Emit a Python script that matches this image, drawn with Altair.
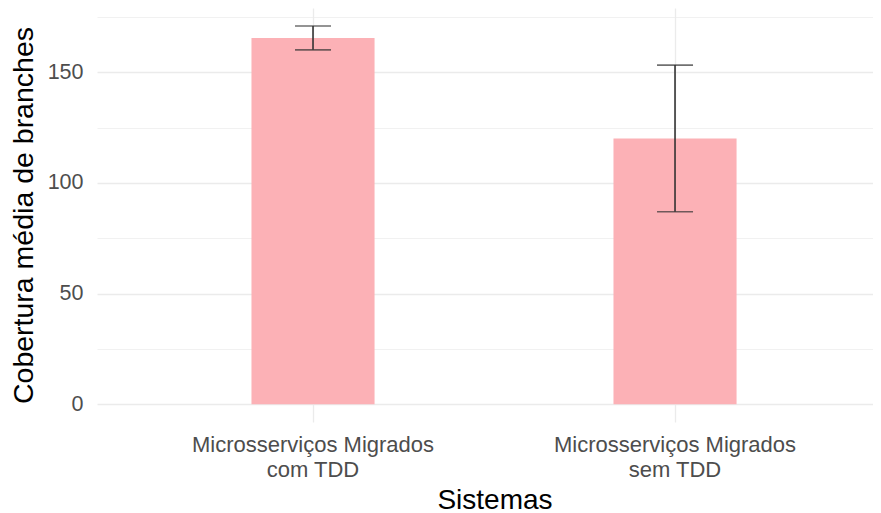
import altair as alt
import pandas as pd

# Data
categorias = ["Microsserviços Migrados\ncom TDD", "Microsserviços Migrados\nsem TDD"]
medias = [165.5, 120.1]
desvios = [5.4, 33.1]
y_ticks = [0, 25, 50, 75, 100, 125, 150, 175]

df = pd.DataFrame({"Sistemas": categorias, "media": medias, "desvio": desvios})

FONT = "Liberation Sans"
W, H = 776, 414

x_enc = alt.X(
    "Sistemas:N",
    sort=categorias,
    scale=alt.Scale(paddingInner=0.66, paddingOuter=0.4018, align=0.531),
    axis=alt.Axis(
        title="Sistemas",
        labelExpr="split(datum.label, '\\n')",
        labelAngle=0,
        labelFont=FONT,
        labelFontSize=22,
        labelColor="#4D4D4D",
        labelLineHeight=25,
        labelPadding=12,
        labelAlign="center",
        labelBaseline="top",
        labelLimit=0,
        ticks=False,
        domain=False,
        grid=True,
        gridColor="#EBEBEB",
        gridWidth=1.3,
        bandPosition=0.5,
        titleFont=FONT,
        titleFontSize=28,
        titleFontWeight="normal",
        titleColor="#000000",
        titleX=397.5,
        titleY=86,
        titleAlign="center",
        titleBaseline="alphabetic",
    ),
)

y_axis = alt.Axis(
    title="Cobertura média de branches",
    values=y_ticks,
    labelExpr="datum.value % 50 === 0 ? datum.label : ''",
    labelFont=FONT,
    labelFontSize=21.5,
    labelColor="#4D4D4D",
    labelPadding=14,
    ticks=False,
    domain=False,
    grid=True,
    gridColor="#EBEBEB",
    gridWidth={"condition": {"test": "datum.value % 50 === 0", "value": 1.3}, "value": 0.7},
    titleFont=FONT,
    titleFontSize=28.5,
    titleFontWeight="normal",
    titleColor="#000000",
    titleAngle=270,
    titleX=-64.5,
    titleY=207,
    titleAlign="center",
    titleBaseline="alphabetic",
)

y_scale = alt.Scale(domain=[-8, 179], nice=False, zero=False)

base = alt.Chart(df).transform_calculate(
    lo="datum.media - datum.desvio",
    hi="datum.media + datum.desvio",
)

bars = base.mark_bar(color="#FCB1B6").encode(
    x=x_enc,
    y=alt.Y("media:Q", scale=y_scale, axis=y_axis),
    y2=alt.datum(0),
)

rule = base.mark_rule(color="#333333", strokeWidth=1.6).encode(
    x=alt.X("Sistemas:N", sort=categorias),
    y=alt.Y("lo:Q"),
    y2="hi:Q",
)

cap_lo = base.mark_tick(color="#333333", thickness=1.6, size=36).encode(
    x=alt.X("Sistemas:N", sort=categorias),
    y=alt.Y("lo:Q"),
)
cap_hi = base.mark_tick(color="#333333", thickness=1.6, size=36).encode(
    x=alt.X("Sistemas:N", sort=categorias),
    y=alt.Y("hi:Q"),
)

chart = alt.layer(bars, rule, cap_lo, cap_hi).properties(
    width=W,
    height=H,
    background="white",
    padding={"left": 89, "top": 0, "right": 0, "bottom": 96},
    autosize=alt.AutoSizeParams(type="none"),
).configure_view(strokeWidth=0, stroke="transparent")

chart.save("out.html", embed_options={"renderer": "svg", "actions": False})
